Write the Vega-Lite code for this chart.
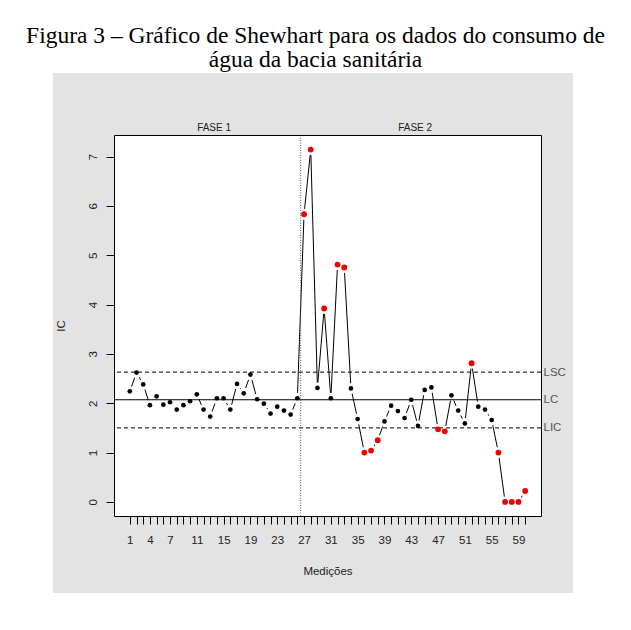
{
  "$schema": "https://vega.github.io/schema/vega-lite/v6.json",
  "width": 427,
  "height": 381,
  "autosize": "none",
  "padding": {"left": 114, "top": 135, "right": 90, "bottom": 114},
  "background": "white",
  "view": {"stroke": null, "fill": null},
  "title": {
    "text": ["Figura 3 – Gráfico de Shewhart para os dados do consumo de", "água da bacia sanitária"],
    "font": "Liberation Serif",
    "fontSize": 23.5,
    "fontWeight": "normal",
    "color": "black",
    "lineHeight": 24,
    "anchor": "middle",
    "frame": "group",
    "dx": -12,
    "offset": 1
  },
  "config": {
    "font": "Liberation Sans",
    "axis": {"zindex": 1, "grid": false, "domainColor": "black", "tickColor": "black", "labelColor": "#222", "titleColor": "#222", "labelFont": "Liberation Sans", "titleFont": "Liberation Sans", "labelFontSize": 11.5, "titleFontSize": 11.5, "titleFontWeight": "normal", "domainWidth": 1, "tickWidth": 1}
  },
  "datasets": {
    "ic": [
      {"i": 1, "ic": 2.24, "status": "in"},
      {"i": 2, "ic": 2.62, "status": "in"},
      {"i": 3, "ic": 2.38, "status": "in"},
      {"i": 4, "ic": 1.96, "status": "in"},
      {"i": 5, "ic": 2.14, "status": "in"},
      {"i": 6, "ic": 1.97, "status": "in"},
      {"i": 7, "ic": 2.02, "status": "in"},
      {"i": 8, "ic": 1.87, "status": "in"},
      {"i": 9, "ic": 1.96, "status": "in"},
      {"i": 10, "ic": 2.04, "status": "in"},
      {"i": 11, "ic": 2.18, "status": "in"},
      {"i": 12, "ic": 1.87, "status": "in"},
      {"i": 13, "ic": 1.73, "status": "in"},
      {"i": 14, "ic": 2.10, "status": "in"},
      {"i": 15, "ic": 2.10, "status": "in"},
      {"i": 16, "ic": 1.87, "status": "in"},
      {"i": 17, "ic": 2.39, "status": "in"},
      {"i": 18, "ic": 2.20, "status": "in"},
      {"i": 19, "ic": 2.58, "status": "in"},
      {"i": 20, "ic": 2.08, "status": "in"},
      {"i": 21, "ic": 1.99, "status": "in"},
      {"i": 22, "ic": 1.79, "status": "in"},
      {"i": 23, "ic": 1.93, "status": "in"},
      {"i": 24, "ic": 1.85, "status": "in"},
      {"i": 25, "ic": 1.77, "status": "in"},
      {"i": 26, "ic": 2.10, "status": "in"},
      {"i": 27, "ic": 5.83, "status": "out"},
      {"i": 28, "ic": 7.14, "status": "out"},
      {"i": 29, "ic": 2.31, "status": "in"},
      {"i": 30, "ic": 3.92, "status": "out"},
      {"i": 31, "ic": 2.10, "status": "in"},
      {"i": 32, "ic": 4.81, "status": "out"},
      {"i": 33, "ic": 4.75, "status": "out"},
      {"i": 34, "ic": 2.30, "status": "in"},
      {"i": 35, "ic": 1.68, "status": "in"},
      {"i": 36, "ic": 1.00, "status": "out"},
      {"i": 37, "ic": 1.04, "status": "out"},
      {"i": 38, "ic": 1.25, "status": "out"},
      {"i": 39, "ic": 1.63, "status": "in"},
      {"i": 40, "ic": 1.95, "status": "in"},
      {"i": 41, "ic": 1.84, "status": "in"},
      {"i": 42, "ic": 1.70, "status": "in"},
      {"i": 43, "ic": 2.07, "status": "in"},
      {"i": 44, "ic": 1.54, "status": "in"},
      {"i": 45, "ic": 2.27, "status": "in"},
      {"i": 46, "ic": 2.32, "status": "in"},
      {"i": 47, "ic": 1.47, "status": "out"},
      {"i": 48, "ic": 1.43, "status": "out"},
      {"i": 49, "ic": 2.16, "status": "in"},
      {"i": 50, "ic": 1.85, "status": "in"},
      {"i": 51, "ic": 1.59, "status": "in"},
      {"i": 52, "ic": 2.81, "status": "out"},
      {"i": 53, "ic": 1.93, "status": "in"},
      {"i": 54, "ic": 1.87, "status": "in"},
      {"i": 55, "ic": 1.66, "status": "in"},
      {"i": 56, "ic": 1.00, "status": "out"},
      {"i": 57, "ic": 0.0, "status": "out"},
      {"i": 58, "ic": 0.0, "status": "out"},
      {"i": 59, "ic": 0.0, "status": "out"},
      {"i": 60, "ic": 0.22, "status": "out"}
    ],
    "limits": [
      {"name": "LSC", "value": 2.63, "kind": "limit"},
      {"name": "LC", "value": 2.07, "kind": "center"},
      {"name": "LIC", "value": 1.50, "kind": "limit"}
    ]
  },
  "resolve": {"axis": {"x": "independent", "y": "independent"}},
  "layer": [
    {
      "data": {"values": [{}]},
      "mark": {"type": "rect", "color": "#e3e3e3", "clip": false, "zindex": 0},
      "encoding": {
        "x": {"datum": -10.46, "type": "quantitative", "scale": {"domain": [-1.36, 62.36], "nice": false, "zero": false}, "axis": null},
        "x2": {"datum": 67.14},
        "y": {"datum": 8.693, "type": "quantitative", "scale": {"domain": [-0.286, 7.436], "nice": false, "zero": false}, "axis": null},
        "y2": {"datum": -1.847}
      }
    },
    {
      "data": {"values": [{}]},
      "mark": {"type": "rect", "color": "white"},
      "encoding": {
        "x": {"datum": -1.36, "type": "quantitative", "axis": null},
        "x2": {"datum": 62.36},
        "y": {"datum": -0.286, "type": "quantitative", "axis": null},
        "y2": {"datum": 7.436}
      }
    },
    {
      "data": {"name": "ic"},
      "mark": {"type": "line", "color": "black", "strokeWidth": 1},
      "encoding": {
        "x": {"field": "i", "type": "quantitative", "title": "Medições",
          "axis": {"orient": "bottom", "zindex": 2, "values": [1,2,3,4,5,6,7,8,9,10,11,12,13,14,15,16,17,18,19,20,21,22,23,24,25,26,27,28,29,30,31,32,33,34,35,36,37,38,39,40,41,42,43,44,45,46,47,48,49,50,51,52,53,54,55,56,57,58,59,60],
            "labelExpr": "indexof([1,4,7,11,15,19,23,27,31,35,39,43,47,51,55,59], datum.value) >= 0 ? datum.label : ''",
            "labelOverlap": false, "tickSize": 8, "labelPadding": 10, "titlePadding": 20, "labelFlush": false}},
        "y": {"field": "ic", "type": "quantitative", "title": "IC",
          "axis": {"orient": "left", "zindex": 2, "values": [0,1,2,3,4,5,6,7], "labelAngle": -90, "labelAlign": "center", "labelBaseline": "bottom", "tickSize": 8, "labelPadding": 8, "titlePadding": 21}}
      }
    },
    {
      "data": {"name": "ic"},
      "mark": {"type": "circle", "color": "white", "opacity": 1, "size": 120},
      "encoding": {
        "x": {"field": "i", "type": "quantitative", "axis": null},
        "y": {"field": "ic", "type": "quantitative", "axis": null}
      }
    },
    {
      "data": {"name": "limits"},
      "mark": {"type": "rule", "color": "black", "strokeWidth": 1},
      "encoding": {
        "y": {"field": "value", "type": "quantitative",
          "axis": {"orient": "right", "zindex": 2, "title": null, "values": [1.5, 2.07, 2.63], "labelExpr": "datum.value > 2.5 ? 'LSC' : datum.value > 2 ? 'LC' : 'LIC'", "ticks": false, "labelPadding": 2, "labelColor": "#555", "labelFontSize": 11.5}},
        "strokeDash": {"field": "kind", "type": "nominal", "scale": {"domain": ["limit", "center"], "range": [[4, 3], [1, 0]]}, "legend": null}
      }
    },
    {
      "data": {"values": [{}]},
      "mark": {"type": "rule", "color": "#555", "strokeWidth": 1, "strokeDash": [1, 1.5]},
      "encoding": {
        "x": {"datum": 26.5, "type": "quantitative",
          "axis": {"orient": "top", "zindex": 2, "title": null, "values": [13.5, 43.5], "labelExpr": "datum.value < 26.5 ? 'FASE 1' : 'FASE 2'", "ticks": false, "labelPadding": 3, "labelFontSize": 10, "labelColor": "#222"}}
      }
    },
    {
      "data": {"name": "ic"},
      "mark": {"type": "circle", "opacity": 1},
      "encoding": {
        "x": {"field": "i", "type": "quantitative", "axis": null},
        "y": {"field": "ic", "type": "quantitative", "axis": null},
        "color": {"field": "status", "type": "nominal", "scale": {"domain": ["in", "out"], "range": ["black", "#ee0000"]}, "legend": null},
        "size": {"field": "status", "type": "nominal", "scale": {"domain": ["in", "out"], "range": [22, 34]}, "legend": null}
      }
    }
  ]
}
